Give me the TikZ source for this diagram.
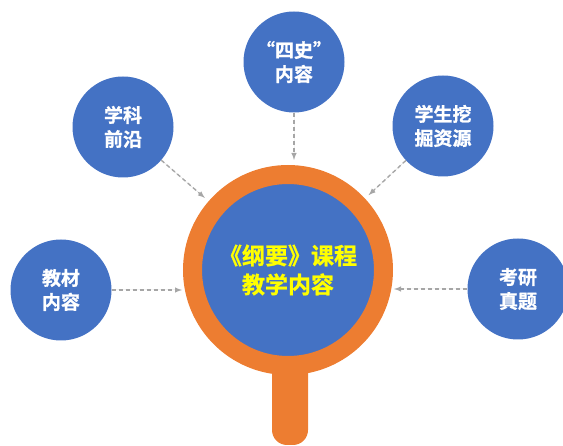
\documentclass[tikz,border=0pt]{standalone}
\usepackage{fontspec}
\newfontfamily\cjk{Noto Sans CJK SC}[BoldFont={Noto Sans CJK SC Bold}, BoldFeatures={FakeBold=1}]
\usepackage{tikz}
\usetikzlibrary{positioning,arrows}
\definecolor{topicblue}{HTML}{4472C4}
\definecolor{lensorange}{HTML}{ED7D31}
\definecolor{titleyellow}{HTML}{FFFF00}
\definecolor{feedgray}{HTML}{A6A6A6}
\tikzset{
  topic/.style  = {circle, fill=topicblue, minimum size=101pt, inner sep=0pt,
                   text=white, align=center,
                   font=\cjk\bfseries\fontsize{19pt}{24pt}\selectfont},
  core/.style   = {circle, fill=topicblue, draw=lensorange, line width=19pt,
                   minimum size=191pt, inner sep=0pt, text=titleyellow,
                   align=center, font=\cjk\bfseries\fontsize{23pt}{29pt}\selectfont},
  handle/.style = {rectangle, fill=lensorange, rounded corners=15pt,
                   minimum width=36pt, minimum height=110pt},
  feed/.style   = {->, >=latex, draw=feedgray, fill=feedgray, line width=1.4pt,
                   dash pattern=on 4pt off 3pt, shorten >=5pt}
}

\begin{document}
\begin{tikzpicture}[x=1pt, y=-1pt]
      \useasboundingbox (0,0) rectangle (563,446);
      \node[handle] (grip) at (290,390) {};
      \node[core] (core) at (288,270) {《纲要》课程\\教学内容};
      \node[topic] (material) at (61,290)  {教材\\内容};
      \node[topic] (frontier) at (123,127) {学科\\前沿};
      \node[topic] (history)  at (294,62)  {“四史”\\内容};
      \node[topic] (student)  at (443,126) {学生挖\\掘资源};
      \node[topic] (exam)     at (518,289) {考研\\真题};
      \draw[feed, shorten >=1pt] (material) -- (material -| core.west);
      \draw[feed] (frontier) -- (core);
      \draw[feed] (history) -- (history |- core.north);
      \draw[feed] (student) -- (core);
      \draw[feed, shorten >=1pt] (exam) -- (exam -| core.east);
    \end{tikzpicture}
\end{document}
